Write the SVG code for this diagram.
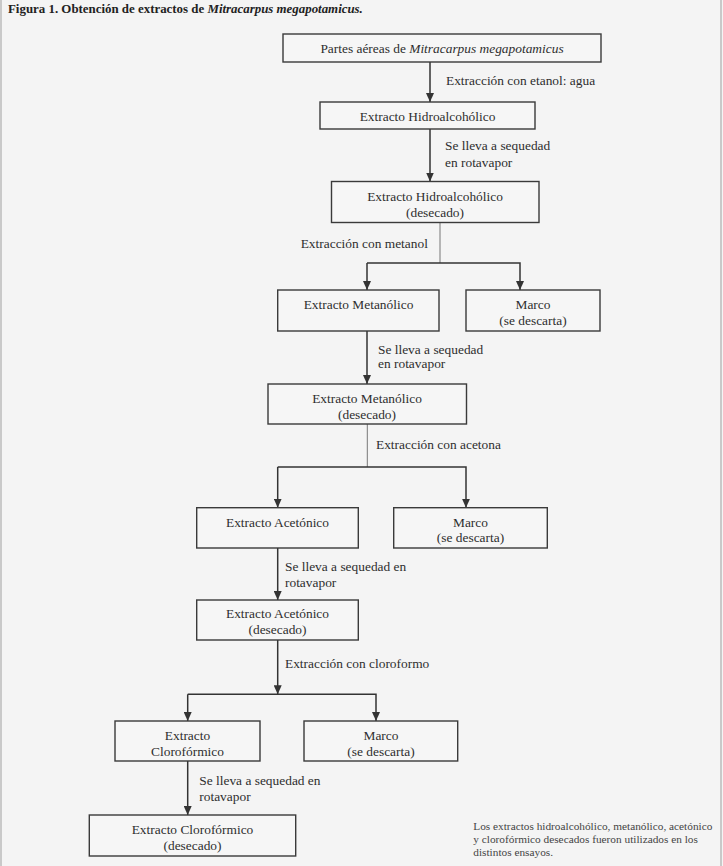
<svg xmlns="http://www.w3.org/2000/svg" width="723" height="866" viewBox="0 0 723 866">
<style>
.bg{fill:#f4f4f4}
.frame{stroke:#c9c9c9;stroke-width:2;fill:none}
.box{fill:#f6f6f6;stroke:#3a3a3a;stroke-width:1.4}
.t{font-family:"Liberation Serif","Times New Roman",serif;font-size:13.4px;fill:#2e2e2e;text-anchor:middle}
.lbl{font-family:"Liberation Serif","Times New Roman",serif;font-size:13.4px;fill:#2e2e2e}
.title{font-family:"Liberation Serif","Times New Roman",serif;font-size:12.9px;font-weight:bold;fill:#222}
.note{font-family:"Liberation Serif","Times New Roman",serif;font-size:11.3px;fill:#444}
.c{stroke:#333;stroke-width:1.5;fill:none}
.thin{stroke:#777;stroke-width:1;fill:none}
</style>
<defs>
<marker id="ah" viewBox="0 0 9 8" refX="9" refY="4" markerWidth="9" markerHeight="8" orient="auto" markerUnits="userSpaceOnUse">
<path d="M0,0 L9,4 L0,8 z" fill="#333"/>
</marker>
</defs>
<rect class="bg" x="0" y="0" width="723" height="866"/>
<line class="frame" x1="1" y1="0" x2="1" y2="866"/>
<line class="frame" x1="721" y1="0" x2="721" y2="866"/>
<text class="title" x="8" y="13">Figura 1. Obtención de extractos de <tspan font-style="italic">Mitracarpus megapotamicus.</tspan></text>

<g id="connectors">
<line class="c" x1="430" y1="62" x2="430" y2="102" marker-end="url(#ah)"/>
<line class="c" x1="430" y1="129" x2="430" y2="181.5" marker-end="url(#ah)"/>
<line class="thin" x1="440" y1="222.5" x2="440" y2="263"/>
<polyline class="c" points="367,263 520,263 520,290" marker-end="url(#ah)"/>
<line class="c" x1="367" y1="263" x2="367" y2="290" marker-end="url(#ah)"/>
<line class="c" x1="367" y1="331" x2="367" y2="384" marker-end="url(#ah)"/>
<line class="thin" x1="367.3" y1="424" x2="367.3" y2="467"/>
<polyline class="c" points="277.7,467 466,467 466,507.7"  marker-end="url(#ah)"/>
<line class="c" x1="277.7" y1="467" x2="277.7" y2="507.7" marker-end="url(#ah)"/>
<line class="c" x1="277.7" y1="548" x2="277.7" y2="600" marker-end="url(#ah)"/>
<line class="c" x1="277.7" y1="640" x2="277.7" y2="694.3" marker-end="url(#ah)"/>
<polyline class="c" points="187.7,694.3 376,694.3 376,721" marker-end="url(#ah)"/>
<line class="c" x1="187.7" y1="694.3" x2="187.7" y2="721" marker-end="url(#ah)"/>
<line class="c" x1="187.7" y1="761" x2="187.7" y2="815" marker-end="url(#ah)"/>
<text class="lbl" x="446" y="85">Extracción con etanol: agua</text>
<text class="lbl" x="445" y="150">Se lleva a sequedad</text>
<text class="lbl" x="445" y="166.5">en rotavapor</text>
<text class="lbl" x="300.7" y="247.5">Extracción con metanol</text>
<text class="lbl" x="378" y="353.5">Se lleva a sequedad</text>
<text class="lbl" x="378" y="368">en rotavapor</text>
<text class="lbl" x="376" y="448.5">Extracción con acetona</text>
<text class="lbl" x="285" y="571">Se lleva a sequedad en</text>
<text class="lbl" x="285" y="587">rotavapor</text>
<text class="lbl" x="285" y="667.5">Extracción con cloroformo</text>
<text class="lbl" x="199.3" y="785">Se lleva a sequedad en</text>
<text class="lbl" x="199.3" y="800.5">rotavapor</text>
</g>

<g id="n-partes">
<rect class="box" x="283" y="34" width="318" height="28"/>
<text class="t" x="442" y="53">Partes aéreas de <tspan font-style="italic">Mitracarpus megapotamicus</tspan></text>
</g>
<g id="n-hidro">
<rect class="box" x="320" y="102" width="215" height="27"/>
<text class="t" x="427.5" y="121">Extracto Hidroalcohólico</text>
</g>
<g id="n-hidro-des">
<rect class="box" x="331.5" y="181.5" width="207.5" height="41"/>
<text class="t" x="435" y="200.5">Extracto Hidroalcohólico</text>
<text class="t" x="435" y="216.5">(desecado)</text>
</g>
<g id="n-metan">
<rect class="box" x="277.7" y="290" width="161.3" height="41"/>
<text class="t" x="358.5" y="308.5">Extracto Metanólico</text>
</g>
<g id="n-marco1">
<rect class="box" x="466" y="290" width="134" height="41"/>
<text class="t" x="533" y="308.5">Marco</text>
<text class="t" x="533" y="325">(se descarta)</text>
</g>
<g id="n-metan-des">
<rect class="box" x="268" y="384" width="198.5" height="40"/>
<text class="t" x="367" y="402.5">Extracto Metanólico</text>
<text class="t" x="367" y="418.5">(desecado)</text>
</g>
<g id="n-acet">
<rect class="box" x="196.7" y="507.7" width="161.6" height="40.3"/>
<text class="t" x="277.5" y="526.5">Extracto Acetónico</text>
</g>
<g id="n-marco2">
<rect class="box" x="393.7" y="507.7" width="153.6" height="40.3"/>
<text class="t" x="470.5" y="526.5">Marco</text>
<text class="t" x="470.5" y="541.5">(se descarta)</text>
</g>
<g id="n-acet-des">
<rect class="box" x="196.7" y="600" width="161.6" height="40"/>
<text class="t" x="277.5" y="617.5">Extracto Acetónico</text>
<text class="t" x="277.5" y="634">(desecado)</text>
</g>
<g id="n-cloro">
<rect class="box" x="115" y="721" width="145" height="40"/>
<text class="t" x="187.5" y="739.5">Extracto</text>
<text class="t" x="187.5" y="755.5">Clorofórmico</text>
</g>
<g id="n-marco3">
<rect class="box" x="304" y="721" width="153.7" height="40"/>
<text class="t" x="381" y="739.5">Marco</text>
<text class="t" x="381" y="755.5">(se descarta)</text>
</g>
<g id="n-cloro-des">
<rect class="box" x="89.3" y="815" width="206.4" height="41"/>
<text class="t" x="192.5" y="833.5">Extracto Clorofórmico</text>
<text class="t" x="192.5" y="850">(desecado)</text>
</g>

<g id="note">
<text class="note" x="473.3" y="829.5">Los extractos hidroalcohólico, metanólico, acetónico</text>
<text class="note" x="473.3" y="843">y clorofórmico desecados fueron utilizados en los</text>
<text class="note" x="473.3" y="855.5">distintos ensayos.</text>
</g>
</svg>
